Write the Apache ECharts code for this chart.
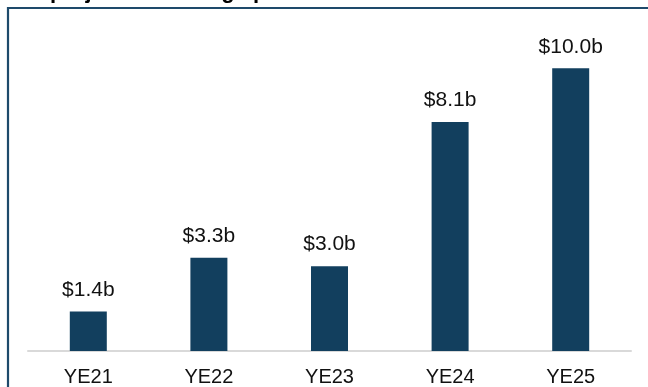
<!DOCTYPE html>
<html><head><meta charset="utf-8">
<script src="https://cdn.jsdelivr.net/npm/echarts@6/dist/echarts.min.js"></script>
<style>html,body{margin:0;padding:0;background:#fff}#c{width:648px;height:387px}</style>
</head><body><div id="c"></div>
<script>
var categories = ['YE21','YE22','YE23','YE24','YE25'];
var values = [1.4, 3.3, 3.0, 8.1, 10.0];
var titleText = 'projected earnings power';
var chart = echarts.init(document.getElementById('c'));
chart.setOption({
  animation: false,
  backgroundColor: '#fff',
  graphic: [
    {type:'rect', shape:{x:8, y:8, width:700, height:500}, style:{fill:'none', stroke:'#1e4a6b', lineWidth:2.2}, z:10},
    {type:'text', left:50, top:-19, style:{text:titleText, font:'bold 22px Arial, "Liberation Sans"', fill:'#000'}, z:11}
  ],
  grid: {left: 28, right: 17, top: 40, bottom: 36},
  xAxis: {
    type:'category', data: categories,
    axisLine:{lineStyle:{color:'#d9d9d9', width:2}},
    axisTick:{show:false},
    axisLabel:{color:'#111', fontSize:20, fontFamily:'Arial, "Liberation Sans"', margin:16}
  },
  yAxis: {type:'value', min:0, max:11, show:false, splitLine:{show:false}},
  series: [{
    type:'bar', data: values, barWidth: 37,
    itemStyle:{color:'#123f5e'},
    label:{show:true, position:'top', distance:11, color:'#111', fontSize:21, fontFamily:'Arial, "Liberation Sans"',
      formatter: function(p){ return '$' + p.value.toFixed(1) + 'b'; }}
  }]
});
</script></body></html>
